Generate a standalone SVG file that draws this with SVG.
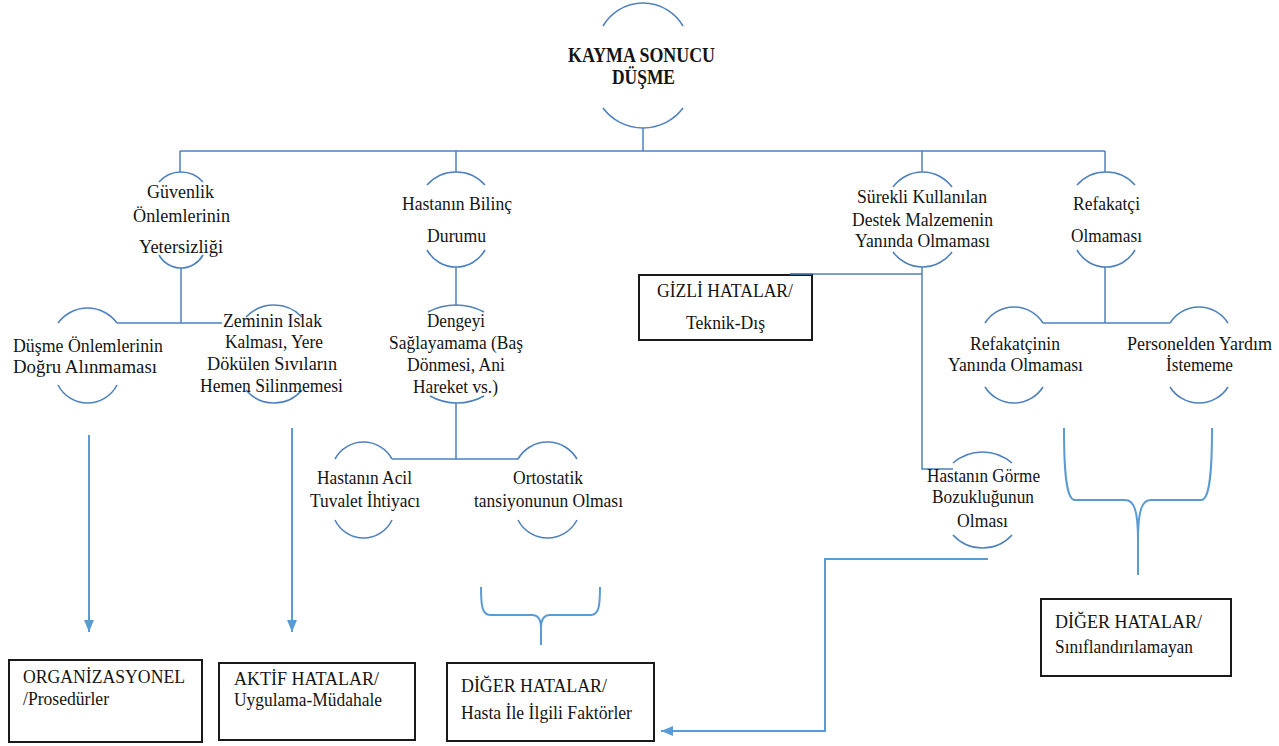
<svg xmlns="http://www.w3.org/2000/svg" width="1279" height="746" viewBox="0 0 1279 746" font-family="Liberation Serif, Times New Roman, serif">
<defs>
<style>
text{font-family:"Liberation Serif","Times New Roman",serif}
.t{font-size:18px;fill:#141414}
.tb{font-size:21px;font-weight:bold;fill:#141414}
.arc{fill:none;stroke:#4F81BD;stroke-width:1.6}
.ln{fill:none;stroke:#4F81BD;stroke-width:1.5}
.lb{fill:none;stroke:#5B9BD5;stroke-width:2}
.box{fill:#fff;stroke:#1a1a1a;stroke-width:2}
</style>
<marker id="ah" viewBox="0 0 12 10" refX="12" refY="5" markerWidth="12" markerHeight="10" markerUnits="userSpaceOnUse" orient="auto">
<path d="M0,0 L12,5 L0,10 z" fill="#5B9BD5"/>
</marker>
</defs>
<rect width="1279" height="746" fill="#fff"/>

<g id="connectors">
<path class="ln" d="M643,128 V151 M180,151 H1105 M180,151 V172 M456,151 V172 M922,151 V172 M1105,151 V172"/>
<path class="ln" d="M181,268 V323 M117,323 H222"/>
<path class="ln" d="M456,267 V306 M456,403 V459 M392,459 H518"/>
<path class="ln" d="M922,267 V469 H953 M790,274 H922"/>
<path class="ln" d="M1105,267 V323 M1043,323 H1170"/>
<path class="lb" d="M89,435 V632" marker-end="url(#ah)"/>
<path class="lb" d="M292,428 V632" marker-end="url(#ah)"/>
<path class="lb" d="M988,559 H825 V731 H661" marker-end="url(#ah)"/>
<path class="lb" d="M481,587 C481,605 482,615 490,615 L532,615 C538,615 541,619 541,628 L541,645 M600,587 C600,605 599,615 591,615 L550,615 C544,615 541,619 541,628"/>
<path class="lb" d="M1064,428 C1064,470 1066,500 1075,500 L1125,500 C1134,500 1138,510 1138,540 L1138,575 M1212,428 C1212,470 1210,500 1201,500 L1151,500 C1142,500 1138,510 1138,540"/>
</g>

<g id="n-root">
<path class="arc" d="M603,26 A46.3,46.3 0 0 1 683,26 M603,108 A50,50 0 0 0 683,108"/>
<text class="tb" x="568" y="62" textLength="147" lengthAdjust="spacingAndGlyphs">KAYMA SONUCU</text>
<text class="tb" x="612" y="84" textLength="63" lengthAdjust="spacingAndGlyphs">DÜŞME</text>
</g>

<g id="n-guvenlik">
<path class="arc" d="M159,182 A29.2,29.2 0 0 1 203,182 M159,255 A25.1,25.1 0 0 0 203,255"/>
<text class="t" x="147" y="198" textLength="67" lengthAdjust="spacingAndGlyphs">Güvenlik</text>
<text class="t" x="133" y="222" textLength="97" lengthAdjust="spacingAndGlyphs">Önlemlerinin</text>
<text class="t" x="139" y="253" textLength="84" lengthAdjust="spacingAndGlyphs">Yetersizliği</text>
</g>

<g id="n-dusme">
<path class="arc" d="M58,323 A36.5,36.5 0 0 1 117,323 M58,385 A33.2,33.2 0 0 0 117,385"/>
<text class="t" x="13" y="352" textLength="150" lengthAdjust="spacingAndGlyphs">Düşme Önlemlerinin</text>
<text class="t" x="13" y="373" textLength="144" lengthAdjust="spacingAndGlyphs">Doğru Alınmaması</text>
</g>

<g id="n-zeminin">
<path class="arc" d="M246,317 A38.7,38.7 0 0 1 302,317 M246,390 A36.7,36.7 0 0 0 302,390"/>
<text class="t" x="223" y="327" textLength="99" lengthAdjust="spacingAndGlyphs">Zeminin Islak</text>
<text class="t" x="225" y="348" textLength="98" lengthAdjust="spacingAndGlyphs">Kalması, Yere</text>
<text class="t" x="207" y="370" textLength="130" lengthAdjust="spacingAndGlyphs">Dökülen Sıvıların</text>
<text class="t" x="200" y="392" textLength="143" lengthAdjust="spacingAndGlyphs">Hemen Silinmemesi</text>
</g>

<g id="n-bilinc">
<path class="arc" d="M427,185 A38.8,38.8 0 0 1 485,185 M427,250 A33.2,33.2 0 0 0 485,250"/>
<text class="t" x="402" y="210" textLength="110" lengthAdjust="spacingAndGlyphs">Hastanın Bilinç</text>
<text class="t" x="427" y="242" textLength="59" lengthAdjust="spacingAndGlyphs">Durumu</text>
</g>

<g id="n-dengeyi">
<path class="arc" d="M428,312 A59.5,59.5 0 0 1 484,312 M430,396 A55.6,55.6 0 0 0 484,396"/>
<text class="t" x="427" y="327" textLength="58" lengthAdjust="spacingAndGlyphs">Dengeyi</text>
<text class="t" x="389" y="349" textLength="134" lengthAdjust="spacingAndGlyphs">Sağlayamama (Baş</text>
<text class="t" x="407" y="371" textLength="98" lengthAdjust="spacingAndGlyphs">Dönmesi, Ani</text>
<text class="t" x="413" y="393" textLength="85" lengthAdjust="spacingAndGlyphs">Hareket vs.)</text>
</g>

<g id="n-acil">
<path class="arc" d="M335,459 A32.4,32.4 0 0 1 392,459 M335,520 A31.6,31.6 0 0 0 392,520"/>
<text class="t" x="317" y="484" textLength="95" lengthAdjust="spacingAndGlyphs">Hastanın Acil</text>
<text class="t" x="310" y="507" textLength="110" lengthAdjust="spacingAndGlyphs">Tuvalet İhtiyacı</text>
</g>

<g id="n-ortostatik">
<path class="arc" d="M518,459 A34.1,34.1 0 0 1 577,459 M518,520 A33.2,33.2 0 0 0 577,520"/>
<text class="t" x="513" y="484" textLength="70" lengthAdjust="spacingAndGlyphs">Ortostatik</text>
<text class="t" x="474" y="507" textLength="149" lengthAdjust="spacingAndGlyphs">tansiyonunun Olması</text>
</g>

<g id="n-surekli">
<path class="arc" d="M893,187 A36.5,36.5 0 0 1 952,187 M893,252 A36.5,36.5 0 0 0 952,252"/>
<text class="t" x="857" y="203" textLength="130" lengthAdjust="spacingAndGlyphs">Sürekli Kullanılan</text>
<text class="t" x="852" y="226" textLength="141" lengthAdjust="spacingAndGlyphs">Destek Malzemenin</text>
<text class="t" x="855" y="247" textLength="135" lengthAdjust="spacingAndGlyphs">Yanında Olmaması</text>
</g>

<g id="n-gizli">
<rect class="box" x="639" y="275" width="173" height="65"/>
<path class="ln" d="M790,274 H812"/>
<text class="t" x="657" y="297" textLength="136" lengthAdjust="spacingAndGlyphs">GİZLİ HATALAR/</text>
<text class="t" x="686" y="329" textLength="79" lengthAdjust="spacingAndGlyphs">Teknik-Dış</text>
</g>

<g id="n-gorme">
<path class="arc" d="M953,463 A45,45 0 0 1 1012,463 M953,535 A40,40 0 0 0 1012,535"/>
<text class="t" x="927" y="482" textLength="113" lengthAdjust="spacingAndGlyphs">Hastanın Görme</text>
<text class="t" x="932" y="503" textLength="102" lengthAdjust="spacingAndGlyphs">Bozukluğunun</text>
<text class="t" x="957" y="527" textLength="51" lengthAdjust="spacingAndGlyphs">Olması</text>
</g>

<g id="n-refakatci">
<path class="arc" d="M1077,185 A38.8,38.8 0 0 1 1135,185 M1077,250 A33.2,33.2 0 0 0 1135,250"/>
<text class="t" x="1073" y="210" textLength="67" lengthAdjust="spacingAndGlyphs">Refakatçi</text>
<text class="t" x="1071" y="242" textLength="71" lengthAdjust="spacingAndGlyphs">Olmaması</text>
</g>

<g id="n-refakatcinin">
<path class="arc" d="M985,323 A34.3,34.3 0 0 1 1043,323 M985,387 A34.3,34.3 0 0 0 1043,387"/>
<text class="t" x="970" y="350" textLength="90" lengthAdjust="spacingAndGlyphs">Refakatçinin</text>
<text class="t" x="948" y="371" textLength="135" lengthAdjust="spacingAndGlyphs">Yanında Olmaması</text>
</g>

<g id="n-personel">
<path class="arc" d="M1170,323 A34.3,34.3 0 0 1 1228,323 M1170,387 A34.3,34.3 0 0 0 1228,387"/>
<text class="t" x="1127" y="350" textLength="145" lengthAdjust="spacingAndGlyphs">Personelden Yardım</text>
<text class="t" x="1166" y="371" textLength="67" lengthAdjust="spacingAndGlyphs">İstememe</text>
</g>

<g id="b-organizasyonel">
<rect class="box" x="9" y="660" width="193" height="82"/>
<text class="t" x="23" y="683" textLength="162" lengthAdjust="spacingAndGlyphs">ORGANİZASYONEL</text>
<text class="t" x="23" y="705" textLength="86" lengthAdjust="spacingAndGlyphs">/Prosedürler</text>
</g>

<g id="b-aktif">
<rect class="box" x="219" y="663" width="196" height="77"/>
<text class="t" x="234" y="685" textLength="145" lengthAdjust="spacingAndGlyphs">AKTİF HATALAR/</text>
<text class="t" x="234" y="706" textLength="148" lengthAdjust="spacingAndGlyphs">Uygulama-Müdahale</text>
</g>

<g id="b-diger-hasta">
<rect class="box" x="447" y="663" width="207" height="78"/>
<text class="t" x="461" y="692" textLength="146" lengthAdjust="spacingAndGlyphs">DİĞER HATALAR/</text>
<text class="t" x="461" y="719" textLength="171" lengthAdjust="spacingAndGlyphs">Hasta İle İlgili Faktörler</text>
</g>

<g id="b-diger-sinif">
<rect class="box" x="1041" y="599" width="190" height="77"/>
<text class="t" x="1055" y="628" textLength="147" lengthAdjust="spacingAndGlyphs">DİĞER HATALAR/</text>
<text class="t" x="1055" y="653" textLength="138" lengthAdjust="spacingAndGlyphs">Sınıflandırılamayan</text>
</g>
</svg>
